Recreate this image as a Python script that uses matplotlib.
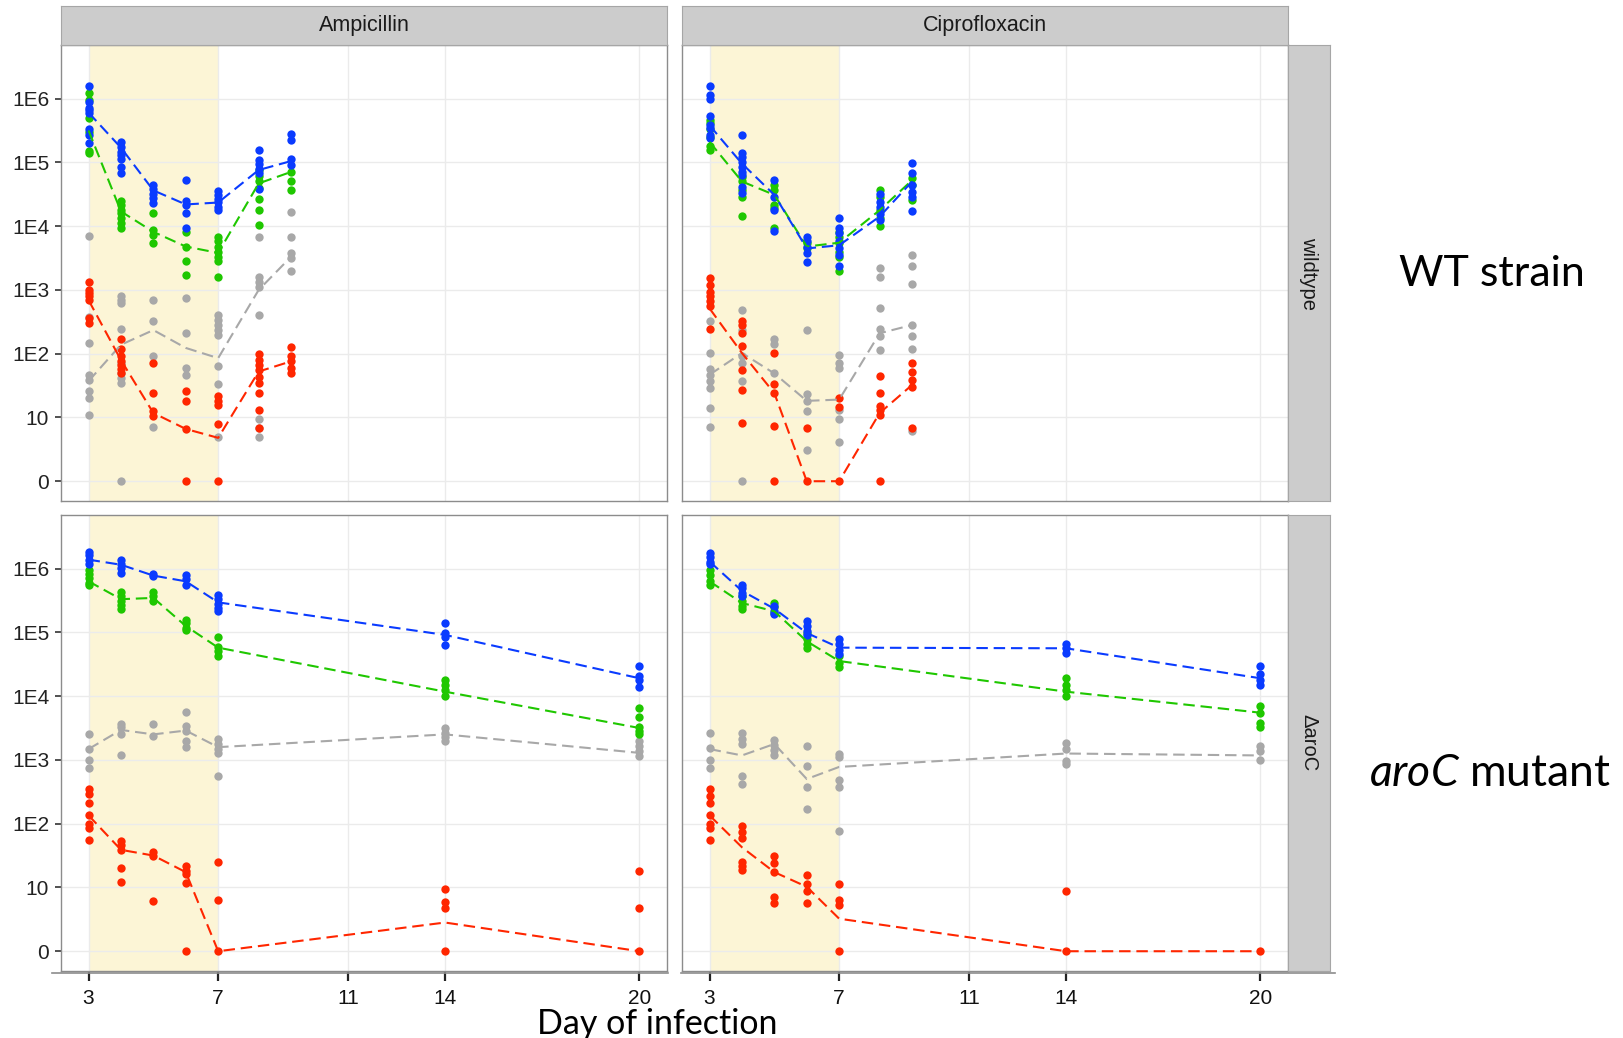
import matplotlib.pyplot as plt
from matplotlib.lines import Line2D

plt.rcParams['font.family'] = ['Liberation Sans', 'DejaVu Sans']
plt.rcParams['mathtext.fontset'] = 'custom'
plt.rcParams['mathtext.it'] = 'Lato:italic'
plt.rcParams['mathtext.rm'] = 'Lato'

# values are log10 counts (0 = none detected), one list per day
days_wt = [3, 4, 5, 6, 7, 8.25, 9.25]
days_aro = [3, 4, 5, 6, 7, 14, 20]
x_ticks = [3, 7, 11, 14, 20]
y_ticks = [0, 1, 2, 3, 4, 5, 6]
y_labels = ['0', '10', '1E2', '1E3', '1E4', '1E5', '1E6']
drugs = ['Ampicillin', 'Ciprofloxacin']
strains = ['wildtype', 'ΔaroC']
colors = ['#A8A8A8', '#FF2600', '#1FC700', '#0A3BFF']  # grey, red, green, blue

# Ampicillin / wildtype
amp_wt_blue = [[6.20, 5.95, 5.86, 5.82, 5.78, 5.53, 5.43, 5.31], [5.32, 5.24, 5.16, 5.11, 5.06, 4.93, 4.83],
               [4.65, 4.58, 4.51, 4.44, 4.36], [4.73, 4.39, 4.33, 4.21, 3.97], [4.55, 4.49, 4.43, 4.38, 4.30, 4.25],
               [5.20, 5.03, 4.97, 4.90, 4.83, 4.58], [5.45, 5.35, 5.05, 4.96]]
amp_wt_blue_mean = [5.78, 5.23, 4.56, 4.34, 4.37, 4.88, 5.02]
amp_wt_green = [[6.08, 5.97, 5.69, 5.48, 5.18, 5.14], [4.40, 4.33, 4.26, 4.20, 4.12, 4.05, 3.97],
                [4.21, 3.94, 3.86, 3.73], [3.91, 3.68, 3.46, 3.23], [3.83, 3.76, 3.68, 3.60, 3.52, 3.46, 3.20],
                [4.88, 4.78, 4.70, 4.59, 4.43, 4.26, 4.01], [4.85, 4.70, 4.57]]
amp_wt_green_mean = [5.50, 4.23, 3.91, 3.68, 3.58, 4.67, 4.85]
amp_wt_grey = [[3.85, 2.58, 2.17, 1.67, 1.59, 1.42, 1.30, 1.04], [2.90, 2.84, 2.79, 2.38, 1.85, 1.70, 1.62, 1.54, 0.0],
               [2.84, 2.52, 1.97, 0.85], [2.88, 2.33, 1.77, 1.67], [2.61, 2.53, 2.45, 2.37, 2.30, 1.81, 1.52, 0.70],
               [3.83, 3.21, 3.13, 3.05, 2.61, 0.97, 0.83, 0.70], [4.22, 3.83, 3.58, 3.50, 3.29]]
amp_wt_grey_mean = [1.57, 2.14, 2.37, 2.09, 1.93, 3.00, 3.52]
amp_wt_red = [[3.12, 3.00, 2.95, 2.90, 2.84, 2.56, 2.48], [2.23, 2.07, 1.96, 1.88, 1.83, 1.76, 1.70],
              [1.86, 1.39, 1.10, 1.02], [1.41, 1.26, 0.82, 0.0], [1.33, 1.26, 1.20, 0.90, 0.0],
              [2.00, 1.90, 1.83, 1.75, 1.64, 1.54, 1.39, 1.11, 0.83], [2.11, 1.96, 1.88, 1.77, 1.69]]
amp_wt_red_mean = [2.84, 1.90, 1.07, 0.82, 0.68, 1.72, 1.88]

# Ciprofloxacin / wildtype
cip_wt_blue = [[6.19, 6.06, 6.00, 5.72, 5.59, 5.54, 5.43, 5.38], [5.43, 5.14, 5.08, 5.01, 4.93, 4.85, 4.80, 4.62, 4.52],
               [4.72, 4.46, 4.26, 3.93], [3.83, 3.76, 3.68, 3.58, 3.44], [4.13, 3.97, 3.89, 3.77, 3.65, 3.55, 3.38],
               [4.50, 4.38, 4.30, 4.19, 4.10], [4.99, 4.83, 4.64, 4.54, 4.46, 4.24]]
cip_wt_blue_mean = [5.58, 4.98, 4.49, 3.65, 3.70, 4.15, 4.70]
cip_wt_green = [[5.66, 5.61, 5.53, 5.40, 5.25, 5.19], [4.77, 4.70, 4.57, 4.46, 4.16],
                [4.64, 4.57, 4.33, 4.29, 3.97], [3.73, 3.65], [3.91, 3.83, 3.73, 3.60, 3.52, 3.30],
                [4.57, 4.46, 4.25, 4.12, 4.00], [4.75, 4.64, 4.41]]
cip_wt_green_mean = [5.32, 4.70, 4.49, 3.68, 3.74, 4.25, 4.72]
cip_wt_grey = [[2.52, 2.01, 1.76, 1.67, 1.57, 1.46, 1.15, 0.85], [2.68, 2.37, 1.96, 1.85, 1.57, 0.0],
               [2.23, 2.15, 1.69], [2.37, 1.36, 1.26, 1.10, 0.49], [1.98, 1.85, 1.77, 1.12, 0.97, 0.61],
               [3.35, 3.21, 2.71, 2.38, 2.27, 2.05], [3.55, 3.37, 3.10, 2.45, 2.27, 2.08, 0.78]]
cip_wt_grey_mean = [1.67, 2.01, 1.69, 1.26, 1.28, 2.32, 2.45]
cip_wt_red = [[3.18, 3.08, 2.97, 2.90, 2.82, 2.74, 2.38], [2.52, 2.45, 2.32, 2.12, 1.75, 1.43, 0.92],
              [2.01, 1.53, 1.38, 0.87, 0.0], [0.83, 0.0], [1.30, 1.17, 0.0],
              [1.65, 1.39, 1.18, 1.11, 1.04, 0.0], [1.86, 1.72, 1.59, 1.48, 0.83]]
cip_wt_red_mean = [2.71, 2.01, 1.38, 0.0, 0.0, 1.07, 1.51]

# Ampicillin / aroC
amp_aro_blue = [[6.26, 6.21, 6.14, 6.07], [6.14, 6.07, 6.01, 5.93], [5.91, 5.88], [5.90, 5.83, 5.75],
                [5.58, 5.52, 5.45, 5.38, 5.33], [5.14, 4.99, 4.92, 4.80], [4.47, 4.31, 4.26, 4.14]]
amp_aro_blue_mean = [6.14, 6.06, 5.89, 5.80, 5.47, 4.96, 4.28]
amp_aro_green = [[5.98, 5.92, 5.85, 5.78, 5.74], [5.63, 5.57, 5.49, 5.43, 5.36], [5.63, 5.57, 5.49],
                 [5.20, 5.15, 5.07, 5.03], [4.93, 4.77, 4.70, 4.63], [4.26, 4.17, 4.10, 4.00],
                 [3.82, 3.68, 3.51, 3.46, 3.40]]
amp_aro_green_mean = [5.80, 5.52, 5.54, 5.10, 4.76, 4.07, 3.50]
amp_aro_grey = [[3.41, 3.17, 3.00, 2.87], [3.57, 3.51, 3.41, 3.07], [3.56, 3.38], [3.75, 3.53, 3.46, 3.29, 3.20],
                [3.33, 3.25, 3.17, 3.11, 2.75], [3.50, 3.42, 3.36, 3.30], [3.30, 3.22, 3.14, 3.06]]
amp_aro_grey_mean = [3.17, 3.47, 3.40, 3.46, 3.20, 3.40, 3.11]
amp_aro_red = [[2.54, 2.47, 2.32, 2.14, 2.00, 1.93, 1.75], [1.73, 1.66, 1.59, 1.30, 1.08], [1.55, 1.49, 0.78],
               [1.34, 1.26, 1.21, 1.07, 0.0], [1.40, 0.80, 0.0], [0.97, 0.77, 0.67, 0.0], [1.26, 0.67, 0.0]]
amp_aro_red_mean = [2.13, 1.59, 1.50, 1.24, 0.0, 0.45, 0.0]

# Ciprofloxacin / aroC
cip_aro_blue = [[6.25, 6.18, 6.11, 6.07], [5.75, 5.69, 5.62, 5.57], [5.41, 5.33, 5.28], [5.18, 5.10, 5.02, 4.96],
                [4.89, 4.81, 4.73, 4.66], [4.82, 4.75, 4.67], [4.47, 4.34, 4.26, 4.17]]
cip_aro_blue_mean = [6.11, 5.65, 5.37, 4.99, 4.76, 4.75, 4.28]
cip_aro_green = [[5.97, 5.90, 5.81, 5.75], [5.57, 5.49, 5.41, 5.36], [5.46, 5.39, 5.31], [4.99, 4.89, 4.81, 4.76],
                 [4.63, 4.52, 4.46], [4.28, 4.17, 4.09, 4.00], [3.84, 3.74, 3.58, 3.51]]
cip_aro_green_mean = [5.80, 5.46, 5.33, 4.86, 4.55, 4.07, 3.74]
cip_aro_grey = [[3.42, 3.18, 3.00, 2.87], [3.42, 3.33, 3.25, 2.75, 2.62], [3.31, 3.24, 3.15, 3.07],
                [3.22, 2.90, 2.57, 2.23], [3.10, 3.04, 2.68, 2.57, 1.88], [3.27, 3.17, 2.98, 2.94], [3.22, 3.14, 3.00]]
cip_aro_grey_mean = [3.17, 3.07, 3.25, 2.70, 2.89, 3.10, 3.07]
cip_aro_red = [[2.54, 2.44, 2.32, 2.14, 2.00, 1.94, 1.75], [1.97, 1.87, 1.78, 1.40, 1.33, 1.27],
               [1.49, 1.38, 1.24, 0.85, 0.76], [1.20, 1.05, 0.95, 0.76], [1.06, 0.80, 0.72, 0.0], [0.94, 0.0], [0.0]]
cip_aro_red_mean = [2.13, 1.63, 1.24, 1.01, 0.51, 0.0, 0.0]

panels = [
    [(days_wt, [(amp_wt_grey, amp_wt_grey_mean), (amp_wt_red, amp_wt_red_mean),
                (amp_wt_green, amp_wt_green_mean), (amp_wt_blue, amp_wt_blue_mean)]),
     (days_wt, [(cip_wt_grey, cip_wt_grey_mean), (cip_wt_red, cip_wt_red_mean),
                (cip_wt_green, cip_wt_green_mean), (cip_wt_blue, cip_wt_blue_mean)])],
    [(days_aro, [(amp_aro_grey, amp_aro_grey_mean), (amp_aro_red, amp_aro_red_mean),
                 (amp_aro_green, amp_aro_green_mean), (amp_aro_blue, amp_aro_blue_mean)]),
     (days_aro, [(cip_aro_grey, cip_aro_grey_mean), (cip_aro_red, cip_aro_red_mean),
                 (cip_aro_green, cip_aro_green_mean), (cip_aro_blue, cip_aro_blue_mean)])],
]

W, H = 1623, 1038
fig = plt.figure(figsize=(W / 100, H / 100), dpi=100)


def box(x0, y0, x1, y1):
    return [x0 / W, 1 - y1 / H, (x1 - x0) / W, (y1 - y0) / H]


col_x = [(61, 667), (682, 1288)]
row_y = [(45, 501), (515, 971)]
strip_edge = '#A6A6A6'

for r in range(2):
    for c in range(2):
        x0, x1 = col_x[c]
        y0, y1 = row_y[r]
        ax = fig.add_axes(box(x0, y0, x1, y1))
        days, series = panels[r][c]
        ax.axvspan(3, 7, color='#FCF5D6', zorder=0.2, lw=0)
        for (pts, mean), col in zip(series, colors):
            for d, vals in zip(days, pts):
                ax.scatter([d] * len(vals), vals, s=36, color=col, linewidths=0, zorder=3)
        for (pts, mean), col in zip(series, colors):
            ax.plot(days, mean, color=col, lw=1.5, dashes=(5.5, 2.8), zorder=4)
        ax.set_xlim(2.15, 20.85)
        ax.set_ylim(-0.31, 6.84)
        ax.set_xticks(x_ticks)
        ax.set_yticks(y_ticks)
        ax.set_axisbelow(True)
        ax.grid(color='#EBEBEB', lw=1.0)
        for sp in ax.spines.values():
            sp.set_color('#8C8C8C')
            sp.set_linewidth(1.0)
        if c == 0:
            ax.set_yticklabels(y_labels)
            ax.tick_params(axis='y', length=4.5, width=1.2, color='#333333', pad=4,
                           labelsize=15, labelcolor='#222222')
        else:
            ax.tick_params(axis='y', length=0, labelleft=False)
        if r == 1:
            ax.set_xticklabels([str(t) for t in x_ticks])
            ax.tick_params(axis='x', length=7, width=1.6, color='#222222', pad=6,
                           labelsize=15, labelcolor='#111111')
        else:
            ax.tick_params(axis='x', length=0, labelbottom=False)

        if r == 0:
            sax = fig.add_axes(box(x0, 6, x1, 45))
            sax.set_facecolor('#CCCCCC')
            sax.set_xticks([])
            sax.set_yticks([])
            for sp in sax.spines.values():
                sp.set_color(strip_edge)
            sax.text(0.5, 0.5, drugs[c], ha='center', va='center', fontsize=15.5, color='#1A1A1A',
                     transform=sax.transAxes)
    rax = fig.add_axes(box(1288, row_y[r][0], 1330, row_y[r][1]))
    rax.set_facecolor('#CCCCCC')
    rax.set_xticks([])
    rax.set_yticks([])
    for sp in rax.spines.values():
        sp.set_color(strip_edge)
    rax.text(0.5, 0.5, strains[r], ha='center', va='center', rotation=270, fontsize=14.5,
             color='#1A1A1A', transform=rax.transAxes)

# pasted axis line under the lower panels
fig.add_artist(Line2D([52 / W, 668 / W], [1 - 973 / H] * 2, color='#8C8C8C', lw=1.2))
fig.add_artist(Line2D([681 / W, 1335 / W], [1 - 973 / H] * 2, color='#8C8C8C', lw=1.2))

fig.text(657 / W, 1 - 1024 / H, 'Day of infection', ha='center', va='center', fontsize=24.5, family='Lato')
fig.text(1492 / W, 1 - 274 / H, 'WT strain', ha='center', va='center', fontsize=31, family='Lato')
fig.text(1490 / W, 1 - 774 / H, r'$\mathit{aroC}$ mutant', ha='center', va='center', fontsize=32, family='Lato')

fig.savefig('out.png', dpi=100)
